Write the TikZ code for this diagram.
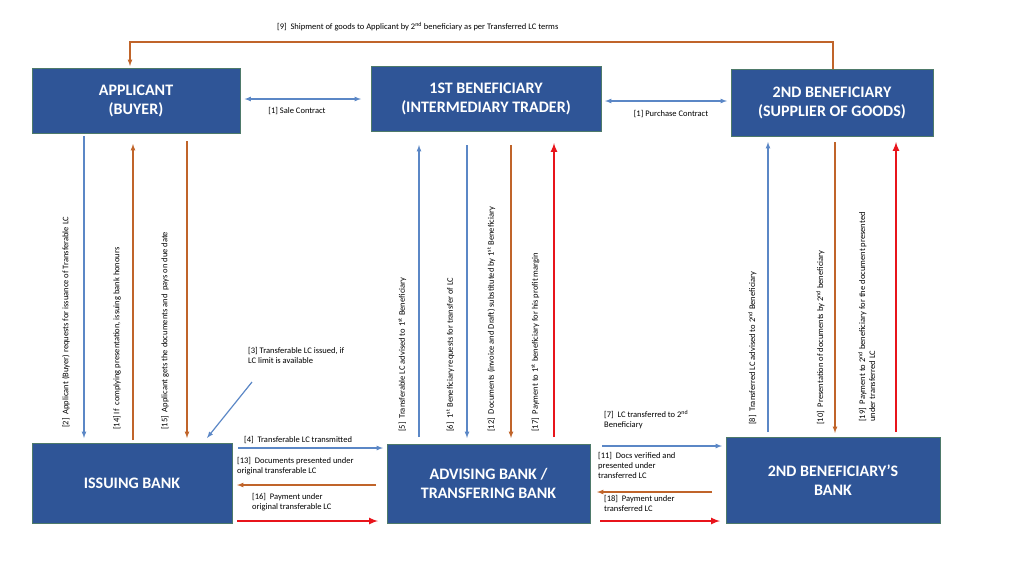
\documentclass[tikz,border=0pt]{standalone}
\usepackage{fontspec}
\setmainfont{Carlito}
\begin{document}
\begin{tikzpicture}[x=1pt,y=-1pt,
 box/.style={draw=boxb,fill=boxf,line width=1pt,text=white,font=\bfseries\fontsize{16}{19}\selectfont,align=center,inner sep=0},
 lab/.style={font=\fontsize{8.5}{10}\selectfont,align=left,inner sep=0},
 vl/.style={lab,rotate=90,anchor=north west},
 bl/.style={draw=blueA,line width=1.2pt,-latex},
 ol/.style={draw=orangeA,line width=1.2pt,-latex},
 rl/.style={draw=redA,line width=2pt,-latex}]
\definecolor{boxf}{HTML}{2F5597}
\definecolor{boxb}{HTML}{4E7A6A}
\definecolor{blueA}{HTML}{5B87C6}
\definecolor{orangeA}{HTML}{C0642A}
\definecolor{redA}{HTML}{E8141B}
\useasboundingbox (0,0) rectangle (1024,576);
\node[box,minimum width=208,minimum height=65] (app) at (136,100.5) {APPLICANT\\(BUYER)};
\node[box,minimum width=230,minimum height=65] (b1) at (486,98.5) {1ST  BENEFICIARY\\(INTERMEDIARY TRADER)};
\node[box,minimum width=202,minimum height=67] (b2) at (832,102.5) {2ND BENEFICIARY\\(SUPPLIER OF GOODS)};
\node[box,minimum width=200,minimum height=80] (ib) at (132,483) {ISSUING BANK};
\node[box,minimum width=203,minimum height=79] (ab) at (488.5,483.5) {ADVISING BANK /\\TRANSFERING BANK};
\node[box,minimum width=214,minimum height=86] (sb) at (833,480) {2ND BENEFICIARY’S\\BANK};
% [9]
\coordinate (t1) at (833,42); \coordinate (t2) at (130,42);
\draw[ol] (833,69) -- (t1) -- (t2) -- (130,66);
\node[lab,anchor=west] (l9) at (277,27) {[9]\ \ Shipment of goods to Applicant by 2\textsuperscript{nd} beneficiary as per Transferred LC terms};
% contracts
\draw[draw=blueA,line width=1.2pt,latex-latex] (app.east |- 0,99) ++(4,0) -- (361,99);
\node[lab] (l1a) at (297,111) {[1] Sale Contract};
\draw[draw=blueA,line width=1.2pt,latex-latex] (605,101) -- (727,101);
\node[lab] (l1b) at (671,114) {[1] Purchase Contract};
% left verticals
\draw[bl] (84,136) -- (84,438);
\draw[ol] (133,440) -- (133,144);
\draw[ol] (187,141) -- (187,438);
\node[vl] (l2) at (62,428) {[2]\ \ Applicant (Buyer) requests for issuance of Transferable LC};
\node[vl] (l14) at (113,430) {[14] If\ \ complying presentation, issuing bank honours};
\node[vl] (l15) at (161,430) {[15]\ \ Applicant gets the documents and\ \ pays on due date};
\node[lab,anchor=north west] (l3) at (248,347) {[3] Transferable LC issued, if\\LC limit is available};
\draw[bl] (252,382) -- (207,438);
% middle verticals
\draw[bl] (419,437) -- (419,145);
\draw[bl] (467,145) -- (467,438);
\draw[ol] (511,145) -- (511,438);
\draw[rl] (554,437) -- (554,143);
\node[vl] (l5) at (398,432) {[5]\ \ Transferable LC advised to 1\textsuperscript{st} Beneficiary};
\node[vl] (l6) at (446,432) {[6]\ \ 1\textsuperscript{st} Beneficiary requests for transfer of LC};
\node[vl] (l12) at (487,432) {[12]\ \ Documents (invoice and Draft) substituted by 1\textsuperscript{st} Beneficiary};
\node[vl] (l17) at (531,432) {[17]\ \ Payment to 1\textsuperscript{st} beneficiary for his profit margin};
% right verticals
\draw[bl] (768,432) -- (768,142);
\draw[ol] (835,142) -- (835,433);
\draw[rl] (896,432) -- (896,142);
\node[vl] (l8) at (748,425) {[8]\ \ Transferred LC advised to 2\textsuperscript{nd} Beneficiary};
\node[vl] (l10) at (816,425) {[10]\ \ Presentation of documents by 2\textsuperscript{nd} beneficiary};
\node[vl] (l19) at (858,422) {[19]\ \ Payment to 2\textsuperscript{nd} beneficiary for the document presented\\under transferred LC};
% bottom left
\node[lab,anchor=west] (l4) at (244,440) {[4]\ \ Transferable LC transmitted};
\draw[bl] (238,448) -- (383,448);
\node[lab,anchor=north west] (l13) at (237,457) {[13]\ \ Documents presented under\\original transferable LC};
\draw[ol] (376,485) -- (237,485);
\node[lab,anchor=north west] (l16) at (252,493) {[16]\ \ Payment under\\original transferable LC};
\draw[rl] (237,521) -- (378,521);
% bottom right
\node[lab,anchor=north west] (l7) at (604,410) {[7]\ \ LC transferred to 2\textsuperscript{nd}\\Beneficiary};
\draw[bl] (602,446) -- (722,446);
\node[lab,anchor=north west] (l11) at (598,452) {[11]\ \ Docs verified and\\presented under\\transferred LC};
\draw[ol] (712,492) -- (597,492);
\node[lab,anchor=north west] (l18) at (604,495) {[18]\ \ Payment under\\transferred LC};
\draw[rl] (600,521) -- (720,521);
\end{tikzpicture}
\end{document}
